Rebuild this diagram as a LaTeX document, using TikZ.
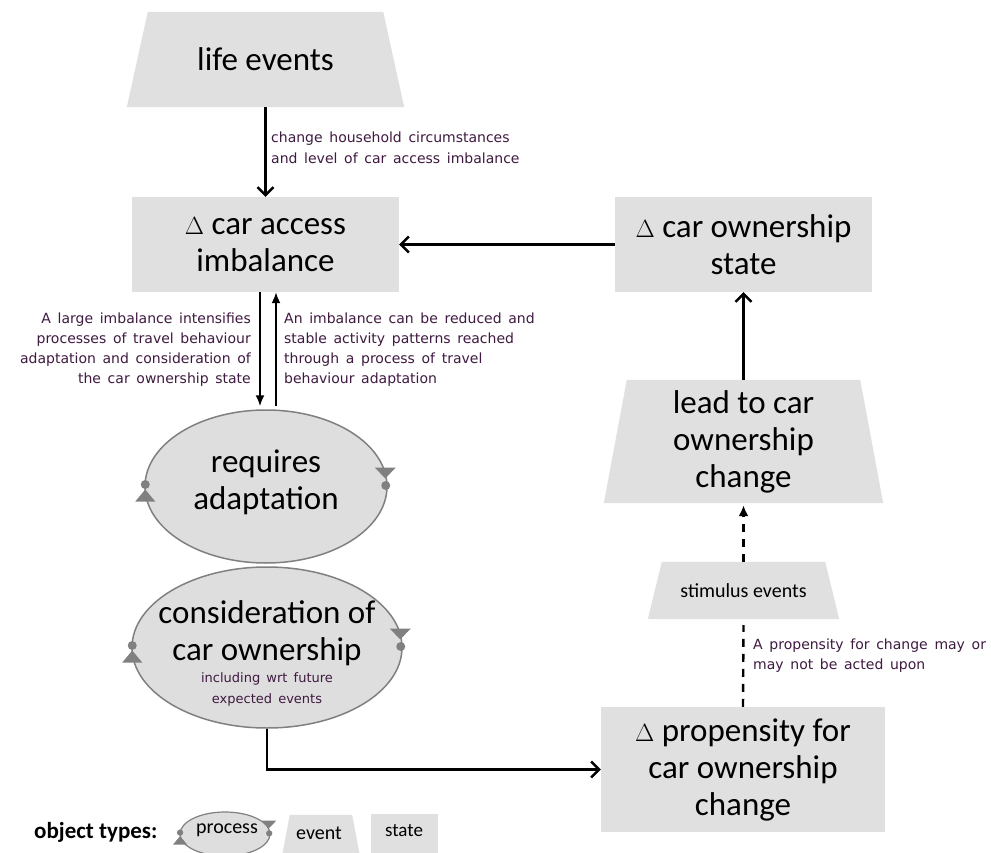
\documentclass[tikz,border=0pt]{standalone}
\usepackage{fontspec}
\setmainfont{Carlito}
\newfontfamily\labfont[WordSpace=1.5]{DejaVu Sans}
\usetikzlibrary{arrows.meta,shapes.geometric,calc}

\definecolor{boxgray}{HTML}{E0E0E0}
\definecolor{procgray}{HTML}{DEDEDE}
\definecolor{rimgray}{HTML}{808080}
\definecolor{labink}{HTML}{3F1A40}

\pgfdeclarelayer{background}
\pgfsetlayers{background,main}

% trapezoid behind an event node: top corners pulled in by #2
\newcommand\evshape[2]{%
  \begin{pgfonlayer}{background}
    \fill[boxgray] ([xshift=#2]#1.north west) -- ([xshift=-#2]#1.north east)
      -- (#1.south east) -- (#1.south west) -- cycle;
  \end{pgfonlayer}}

% small triangle + dot markers on both sides of a process ellipse
\newcommand\procmarks[2]{%
  \begin{scope}[shift={(#1.east)}, scale=#2]
    \fill[rimgray] (-13,-19) -- (8,-19) -- (-2.5,-8) -- cycle;
    \fill[rimgray] (-2,-1) circle (4.5pt);
  \end{scope}
  \begin{scope}[shift={(#1.west)}, scale=#2]
    \fill[rimgray] (1,-2) circle (4.5pt);
    \fill[rimgray] (1,3) -- (11,15) -- (-9,15) -- cycle;
  \end{scope}}

\begin{document}
\begin{tikzpicture}[
  x=1pt, y=-1pt,
  bigtext/.style={font=\fontsize{33}{37}\selectfont, align=center, text=black},
  statebox/.style={rectangle, fill=boxgray, inner sep=0pt, bigtext},
  eventbox/.style={rectangle, inner sep=0pt, bigtext},
  procbox/.style={ellipse, fill=procgray, draw=rimgray, line width=1.5pt, inner sep=0pt},
  labeltext/.style={font=\labfont\fontsize{14}{20}\selectfont, text=labink, inner sep=0pt},
  flow/.style={line width=2.4pt, -{Straight Barb[length=8pt,width=16pt]}},
  slimarrow/.style={line width=1.8pt, -{Latex[length=11pt,width=9pt]}},
  maybe/.style={line width=2.4pt, dash pattern=on 8pt off 7pt},
]
\useasboundingbox (0,0) rectangle (991,853);
\clip (0,0) rectangle (991,853);
\begin{pgfonlayer}{background}
  \fill[white] (0,0) rectangle (991,853);
\end{pgfonlayer}

% events and states
\node[eventbox, minimum width=277pt, minimum height=95pt] (life) at (265.5,59.5) {life events};
\evshape{life}{21pt}
\node[statebox, minimum width=267pt, minimum height=95pt] (imb) at (265.5,244.5) {$\Delta$ car access\\imbalance};
\node[statebox, minimum width=257pt, minimum height=95pt] (own) at (743.5,244.5) {$\Delta$ car ownership\\state};
\node[eventbox, minimum width=279pt, minimum height=123pt] (lead) at (743.5,441.5) {lead to car\\ownership\\change};
\evshape{lead}{23pt}
\node[eventbox, minimum width=191pt, minimum height=57pt,
      font=\fontsize{20}{22}\selectfont] (stim) at (743.5,590.5) {stimulus events};
\evshape{stim}{14pt}
\node[statebox, minimum width=284pt, minimum height=125pt] (prop) at (743,769.5) {$\Delta$ propensity for\\car ownership\\change};

% processes
\node[procbox, minimum width=242pt, minimum height=153pt] (adapt) at (266,486.5) {};
\node[bigtext, inner sep=0pt] (adapttxt) at (266,482) {requires\\adaptation};
\procmarks{adapt}{1}

\node[procbox, minimum width=270pt, minimum height=161pt] (cons) at (267,647.5) {};
\node[bigtext, inner sep=0pt] (constxt) at (267,633.5) {consideration of\\car ownership};
\node[labeltext, align=center, font=\labfont\fontsize{13}{21}\selectfont] (consnote) at (267,689) {including wrt future\\expected events};
\procmarks{cons}{1}

% connectors
\draw[flow] (life.south) -- (imb.north);
\node[labeltext, anchor=west, align=left, font=\labfont\fontsize{14}{21}\selectfont] (hh) at (271,147.5)
  {change household circumstances\\and level of car access imbalance};

\draw[flow] (own.west) -- (imb.east);

\draw[slimarrow] ($(imb.south)+(-5.5,0)$) -- ($(adapt.north)+(-6,-3)$);
\draw[slimarrow] ($(adapt.north)+(10,-3)$) -- ($(imb.south)+(10.5,0)$);
\node[labeltext, anchor=east, align=right] (bigimb) at (251,349.5)
  {A large imbalance intensifies\\processes of travel behaviour\\adaptation and consideration of\\the car ownership state};
\node[labeltext, anchor=west, align=left] (reduce) at (284,349.5)
  {An imbalance can be reduced and\\stable activity patterns reached\\through a process of travel\\behaviour adaptation};

\draw[flow] (cons.south) |- (prop.west);

\draw[maybe] (prop.north) -- ($(stim.south)+(0,6)$);
\node[labeltext, anchor=west, align=left] (act) at (753,656)
  {A propensity for change may or\\may not be acted upon};
\draw[maybe, -{Latex[length=11pt,width=10pt]}] (stim.north) -- ($(lead.south)+(0,2)$);
\draw[flow] (lead.north) -- (own.south);

% legend
\node[anchor=west, inner sep=0pt, font=\bfseries\fontsize{23}{26}\selectfont] (otypes) at (34,832) {object types:};
\node[procbox, line width=1.2pt, minimum width=90pt, minimum height=44pt] (legproc) at (225,834) {};
\node[inner sep=0pt, font=\fontsize{20}{22}\selectfont] (legproctxt) at (227,830) {process};
\procmarks{legproc}{0.7}
\node[eventbox, minimum width=78pt, minimum height=42pt] (legevent) at (321,836) {};
\evshape{legevent}{8pt}
\node[inner sep=0pt, font=\fontsize{20}{22}\selectfont] (legeventtxt) at (319,833) {event};
\node[statebox, minimum width=67pt, minimum height=43pt] (legstate) at (404.5,835.5) {};
\node[inner sep=0pt, font=\fontsize{19}{21}\selectfont] (legstatetxt) at (404,831) {state};
\end{tikzpicture}
\end{document}
